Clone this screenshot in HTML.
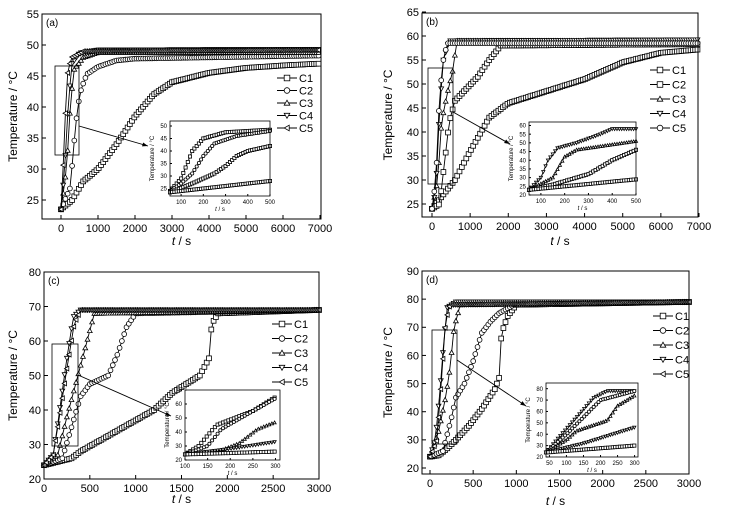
<!DOCTYPE html>
<html><head><meta charset="utf-8"><style>
html,body{margin:0;padding:0;background:#fff;}
svg{display:block;font-family:"Liberation Sans",sans-serif;}
</style></head><body>
<svg id="s" width="739" height="526" viewBox="0 0 739 526"></svg>
<script>
var S=document.getElementById('s'),out='';
function mk(type,x,y,r){
 var st=' fill="#fff" stroke="#000" stroke-width="0.8"';
 if(type=='s')return '<rect x="'+(x-r).toFixed(1)+'" y="'+(y-r).toFixed(1)+'" width="'+2*r+'" height="'+2*r+'"'+st+'/>';
 if(type=='o')return '<circle cx="'+x.toFixed(1)+'" cy="'+y.toFixed(1)+'" r="'+r+'"'+st+'/>';
 var p;
 if(type=='u')p=[[x,y-r],[x+r,y+r*0.8],[x-r,y+r*0.8]];
 if(type=='d')p=[[x,y+r],[x+r,y-r*0.8],[x-r,y-r*0.8]];
 if(type=='l')p=[[x-r,y],[x+r*0.8,y-r],[x+r*0.8,y+r]];
 return '<polygon points="'+p.map(function(a){return a[0].toFixed(1)+','+a[1].toFixed(1)}).join(' ')+'"'+st+'/>';
}
function interp(pts,t){
 for(var i=1;i<pts.length;i++){if(t<=pts[i][0]){var a=pts[i-1],b=pts[i];return a[1]+(b[1]-a[1])*(t-a[0])/(b[0]-a[0]);}}
 return pts[pts.length-1][1];
}
function curve(P,pts,type,r,dt){
 var t0=pts[0][0],t1=pts[pts.length-1][0],px=[];
 for(var t=t0;t<=t1+1e-6;t+=dt)px.push([P.X(t),P.Y(interp(pts,t))]);
 var s='<polyline fill="none" stroke="#000" stroke-width="0.9" points="'+px.map(function(a){return a[0].toFixed(1)+','+a[1].toFixed(1)}).join(' ')+'"/>';
 px.forEach(function(a){s+=mk(type,a[0],a[1],r)});
 return s;
}
function panel(o){
 var P={X:function(t){return o.x0+(t-o.t0)*(o.x1-o.x0)/(o.t1-o.t0)},Y:function(v){return o.y0+(v-o.v0)*(o.y1-o.y0)/(o.v1-o.v0)}};
 var s='';
 o.curves.forEach(function(c){s+=curve(P,c[1],c[0],o.r,o.dt)});
 s+='<rect x="'+o.L+'" y="'+o.T+'" width="'+(o.R-o.L)+'" height="'+(o.B-o.T)+'" fill="none" stroke="#000" stroke-width="'+(o.sw||1)+'"/>';
 var fs=o.fs;
 o.xt.forEach(function(t){var x=P.X(t);s+='<line x1="'+x+'" y1="'+o.B+'" x2="'+x+'" y2="'+(o.B-o.tl)+'" stroke="#000"/><text x="'+x+'" y="'+(o.B+fs+2)+'" font-size="'+fs+'" text-anchor="middle">'+t+'</text>';});
 o.yt.forEach(function(v){var y=P.Y(v);s+='<line x1="'+o.L+'" y1="'+y+'" x2="'+(o.L+o.tl)+'" y2="'+y+'" stroke="#000"/><text x="'+(o.L-3)+'" y="'+(y+fs*0.35)+'" font-size="'+fs+'" text-anchor="end">'+v+'</text>';});
 return s;
}
function main(o){
 var s=panel(o);
 s+='<text x="'+(o.L+4)+'" y="'+(o.T+12)+'" font-size="10">'+o.lab+'</text>';
 s+='<text transform="translate('+o.ylx+','+((o.T+o.B)/2)+') rotate(-90)" font-size="12" text-anchor="middle">Temperature / °C</text>';
 s+='<text x="'+((o.L+o.R)/2)+'" y="'+o.xly+'" font-size="12" text-anchor="middle"><tspan font-style="italic">t</tspan> / s</text>';
 var names=['C1','C2','C3','C4','C5'];
 o.leg.types.forEach(function(t,i){var y=o.leg.y+i*o.leg.dy;
  s+='<line x1="'+o.leg.x+'" y1="'+y+'" x2="'+(o.leg.x+20)+'" y2="'+y+'" stroke="#000"/>'+mk(t,o.leg.x+10,y,2.8)+'<text x="'+(o.leg.x+22)+'" y="'+(y+4)+'" font-size="11">'+names[i]+'</text>';});
 s+='<rect x="'+o.zr[0]+'" y="'+o.zr[1]+'" width="'+(o.zr[2]-o.zr[0])+'" height="'+(o.zr[3]-o.zr[1])+'" fill="none" stroke="#000" stroke-width="0.8"/>';
 var a=o.ar,ang=Math.atan2(a[3]-a[1],a[2]-a[0]);
 s+='<line x1="'+a[0]+'" y1="'+a[1]+'" x2="'+a[2]+'" y2="'+a[3]+'" stroke="#000" stroke-width="0.9"/>';
 var hx=a[2],hy=a[3],h=6;
 s+='<polygon points="'+hx+','+hy+' '+(hx-h*Math.cos(ang-0.35))+','+(hy-h*Math.sin(ang-0.35))+' '+(hx-h*Math.cos(ang+0.35))+','+(hy-h*Math.sin(ang+0.35))+'" fill="#000"/>';
 var I=o.ins;
 s+='<rect x="'+I.L+'" y="'+I.T+'" width="'+(I.R-I.L)+'" height="'+(I.B-I.T)+'" fill="#fff"/>';
 s+=panel(I);
 s+='<text transform="translate('+(I.L-16)+','+((I.T+I.B)/2)+') rotate(-90)" font-size="6" text-anchor="middle">Temperature / °C</text>';
 s+='<text x="'+((I.L+I.R)/2)+'" y="'+(I.B+15)+'" font-size="6" text-anchor="middle"><tspan font-style="italic">t</tspan> / s</text>';
 return s;
}
function ins(L,R,T,B,t0,t1,v0,v1,xt,yt,curves,dt){return {L:L,R:R,T:T,B:B,x0:L,x1:R,t0:t0,t1:t1,y0:B,y1:T,v0:v0,v1:v1,xt:xt,yt:yt,curves:curves,r:1.6,dt:dt,fs:6,tl:2,sw:0.8};}

// Panel a
out+=main({L:42,R:321,T:14,B:219,x0:61,x1:320,t0:0,t1:7000,y0:200,y1:14,v0:25,v1:55,
 xt:[0,1000,2000,3000,4000,5000,6000,7000],yt:[25,30,35,40,45,50,55],r:2.4,dt:60,fs:11,tl:4,
 lab:'(a)',ylx:17,xly:245,leg:{x:277,y:78,dy:12.5,types:['s','o','u','d','l']},
 zr:[55,66,79,155],ar:[79,126,148,146],
 curves:[
 ['s',[[0,23.5],[300,25],[600,28],[1000,30],[1500,34],[2000,38.5],[2500,42],[3000,44],[4000,45.5],[5000,46.3],[6000,46.7],[7000,47]]],
 ['o',[[0,23.5],[250,27],[350,34],[450,40],[550,43],[700,45.3],[1000,46.5],[1500,47.5],[2000,47.8],[7000,48.3]]],
 ['u',[[0,23.5],[150,30],[250,40],[350,46],[600,48],[1000,48.8],[7000,48.8]]],
 ['d',[[0,23.5],[100,30],[200,41],[300,47],[500,48.7],[1000,49.2],[7000,49.3]]],
 ['l',[[0,23.5],[80,33],[160,45],[280,48],[600,49],[7000,49.2]]]],
 ins:ins(170,270,121,196,50,500,22,52,[100,200,300,400,500],[25,30,35,40,45,50],[
 ['s',[[50,24],[100,29],[150,40],[200,45],[300,47.5],[500,48.5]]],
 ['o',[[50,24],[100,27],[150,31],[200,38],[250,43],[350,46],[500,48]]],
 ['s',[[50,23.5],[150,27],[250,31],[300,34],[350,38],[400,40],[500,42]]],
 ['s',[[50,23.5],[200,25],[350,26.5],[500,28]]]],10)
});
// Panel b
out+=main({L:422,R:698,T:13,B:217,x0:432,x1:699,t0:0,t1:7000,y0:204,y1:12,v0:25,v1:65,
 xt:[0,1000,2000,3000,4000,5000,6000,7000],yt:[25,30,35,40,45,50,55,60,65],r:2.4,dt:60,fs:11,tl:4,
 lab:'(b)',ylx:392,xly:245,leg:{x:650,y:70,dy:14.5,types:['s','s','u','d','o']},
 zr:[428,68,453,184],ar:[453,112,510,144],
 curves:[
 ['s',[[0,24],[300,27],[600,30],[1000,36],[1500,43],[2000,46],[3000,48.5],[4000,51],[5000,54.5],[6000,56.5],[7000,57.2]]],
 ['s',[[0,24],[200,25],[350,35],[450,42],[600,46.5],[900,49],[1200,51.5],[1500,55],[1800,58],[7000,58.3]]],
 ['u',[[0,24],[150,30],[250,42],[400,48],[550,53],[650,59],[7000,59]]],
 ['d',[[0,24],[100,28],[200,45],[300,55],[450,59],[7000,59.2]]],
 ['o',[[0,24],[100,30],[200,48],[300,55],[400,58.5],[7000,58.5]]]],
 ins:ins(529,636,122,195,50,500,20,62,[100,200,300,400,500],[20,25,30,35,40,45,50,55,60],[
 ['d',[[50,23],[100,30],[130,40],[170,47],[250,50],[350,55],[400,58],[500,58]]],
 ['u',[[50,23],[150,30],[200,42],[250,46],[350,48],[500,51]]],
 ['s',[[50,23],[150,26],[250,30],[300,32],[400,40],[500,46]]],
 ['s',[[50,23],[200,25],[500,29]]]],10)
});
// Panel c
out+=main({L:44,R:319,T:272,B:479,x0:44,x1:319,t0:0,t1:3000,y0:479,y1:272,v0:20,v1:80,
 xt:[0,500,1000,1500,2000,2500,3000],yt:[20,30,40,50,60,70,80],r:2.4,dt:25,fs:11,tl:4,
 lab:'(c)',ylx:17,xly:503,leg:{x:272,y:324,dy:14.5,types:['s','o','u','d','l']},
 zr:[52,344,78,446],ar:[78,375,171,416],
 curves:[
 ['s',[[0,24],[300,26],[400,28],[600,31],[1000,37],[1200,40],[1400,45],[1700,50],[1800,55],[1830,65],[1900,68],[3000,69]]],
 ['o',[[0,24],[200,26],[300,35],[400,44],[500,47.5],[700,50],[800,56],[900,64],[1000,68],[3000,69]]],
 ['u',[[0,24],[150,27],[250,38],[350,48],[450,58],[550,68],[3000,69]]],
 ['d',[[0,24],[100,27],[150,36],[250,55],[320,67],[400,69],[3000,69]]],
 ['l',[[0,24],[100,27],[180,40],[250,52],[330,65],[400,69],[3000,69]]]],
 ins:ins(185,280,390,460,100,310,20,70,[100,150,200,250,300],[20,30,40,50,60,70],[
 ['s',[[100,24],[130,30],[170,45],[250,55],[300,65]]],
 ['o',[[100,24],[150,30],[180,42],[250,55],[300,64]]],
 ['u',[[100,24],[180,27],[220,32],[260,42],[300,47]]],
 ['d',[[100,24],[200,28],[300,33]]],
 ['s',[[100,24],[300,26]]]],6)
});
// Panel d
out+=main({L:422,R:689,T:271,B:474,x0:430,x1:689,t0:0,t1:3000,y0:468,y1:271,v0:20,v1:90,
 xt:[0,500,1000,1500,2000,2500,3000],yt:[20,30,40,50,60,70,80,90],r:2.4,dt:25,fs:11,tl:4,
 lab:'(d)',ylx:392,xly:505,leg:{x:653,y:316,dy:14.5,types:['s','o','u','d','l']},
 zr:[432,330,457,444],ar:[457,360,526,406],
 curves:[
 ['s',[[0,24],[100,24.5],[200,27],[300,30],[450,35],[600,41],[750,48],[800,52],[810,60],[830,68],[900,74],[1000,78],[3000,79]]],
 ['o',[[0,24],[150,26],[250,38],[300,45],[400,50],[500,58],[600,68],[700,72],[800,75],[1000,78.5],[3000,79]]],
 ['u',[[0,24],[100,33],[180,45],[230,55],[280,70],[350,78],[3000,79]]],
 ['d',[[0,24],[60,30],[110,45],[160,65],[200,77],[300,79],[3000,79]]],
 ['l',[[0,24],[80,30],[130,50],[180,72],[230,78],[3000,79]]]],
 ins:ins(546,638,383,457,40,310,20,85,[50,100,150,200,250,300],[20,30,40,50,60,70,80],[
 ['d',[[40,24],[80,38],[130,55],[180,72],[220,78],[300,78]]],
 ['o',[[40,24],[100,40],[160,58],[200,70],[300,78]]],
 ['u',[[40,24],[100,35],[130,43],[180,48],[220,52],[250,65],[300,74]]],
 ['d',[[40,24],[150,32],[300,46]]],
 ['s',[[40,24],[300,30]]]],7)
});
S.innerHTML=out;
</script>
</body></html>
